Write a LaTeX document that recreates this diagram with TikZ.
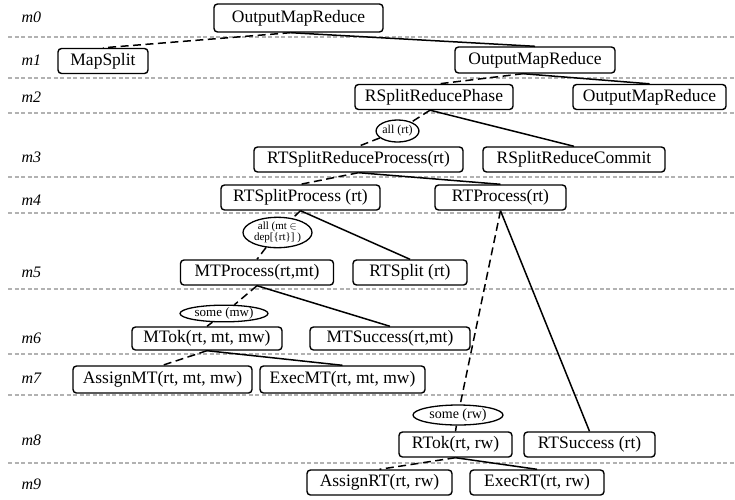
\documentclass[tikz,border=0pt]{standalone}
\usepackage{fontspec}
\setmainfont{Liberation Serif}
\usetikzlibrary{shapes.geometric}
\begin{document}
\begin{tikzpicture}[x=1pt,y=-1pt,
 box/.style={draw, rounded corners=3.5pt, line width=1.4pt, minimum height=25pt, inner sep=0pt, font=\fontsize{17.5}{20}\selectfont},
 oval/.style={draw, ellipse, line width=1.3pt, inner sep=0pt},
 lvl/.style={anchor=west, font=\fontsize{16}{18}\selectfont\itshape},
 sep/.style={draw=black!30, line width=1.1pt, dash pattern=on 4pt off 2.5pt},
 sol/.style={line width=1.5pt},
 dsh/.style={line width=1.5pt, dash pattern=on 8pt off 4.5pt}]
\useasboundingbox (0,0) rectangle (735,499);
% separators
\foreach \yy in {37,78,113,177,213,289,354,395,463}
  \draw[sep] (8,\yy) -- (735,\yy);
% level labels
\node[lvl] (m0) at (18,17) {m0};
\node[lvl] (m1) at (18,60) {m1};
\node[lvl] (m2) at (18,97) {m2};
\node[lvl] (m3) at (18,157) {m3};
\node[lvl] (m4) at (18,200) {m4};
\node[lvl] (m5) at (18,272) {m5};
\node[lvl] (m6) at (18,338) {m6};
\node[lvl] (m7) at (18,378) {m7};
\node[lvl] (m8) at (18,440) {m8};
\node[lvl] (m9) at (18,484) {m9};
% nodes
\node[box, minimum width=169pt, minimum height=28pt] (omr0) at (298.5,18) {OutputMapReduce};
\node[box, minimum width=90pt] (mapsplit) at (103,61) {MapSplit};
\node[box, minimum width=160pt, minimum height=26pt] (omr1) at (535,60) {OutputMapReduce};
\node[box, minimum width=158pt] (rsrp) at (434,97) {RSplitReducePhase};
\node[box, minimum width=153pt] (omr2) at (649.5,97) {OutputMapReduce};
\node[oval, minimum width=41pt, minimum height=22pt, font=\fontsize{12}{12}\selectfont] (allrt) at (397.5,131) {all (rt)};
\node[box, minimum width=209pt] (rtsrp) at (358.5,159.5) {RTSplitReduceProcess(rt)};
\node[box, minimum width=182pt] (rsrc) at (574,159.5) {RSplitReduceCommit};
\node[box, minimum width=159pt] (rtsp) at (300.5,197.5) {RTSplitProcess (rt)};
\node[box, minimum width=131pt] (rtp) at (500.5,197.5) {RTProcess(rt)};
\node[oval, minimum width=69pt, minimum height=29pt, align=center, font=\fontsize{11}{11.5}\selectfont] (allmt) at (277.5,232.5) {all (mt $\in$\\dep[\{rt\}] )};
\node[box, minimum width=153pt] (mtp) at (257,272.5) {MTProcess(rt,mt)};
\node[box, minimum width=114pt] (rtsplit) at (410,272.5) {RTSplit (rt)};
\node[oval, minimum width=88pt, minimum height=16pt, font=\fontsize{13}{13}\selectfont] (somemw) at (224,313.5) {some (mw)};
\node[box, minimum width=150pt, minimum height=23pt] (mtok) at (207,338.5) {MTok(rt, mt, mw)};
\node[box, minimum width=160pt, minimum height=23pt] (mtsucc) at (390,338.5) {MTSuccess(rt,mt)};
\node[box, minimum width=179pt, minimum height=27pt] (assignmt) at (162.5,379.5) {AssignMT(rt, mt, mw)};
\node[box, minimum width=165pt, minimum height=27pt] (execmt) at (342.5,379.5) {ExecMT(rt, mt, mw)};
\node[oval, minimum width=90pt, minimum height=20pt, font=\fontsize{14}{14}\selectfont] (somerw) at (458,415) {some (rw)};
\node[box, minimum width=113pt] (rtok) at (455.5,444.5) {RTok(rt, rw)};
\node[box, minimum width=131pt] (rtsucc) at (589.5,444.5) {RTSuccess (rt)};
\node[box, minimum width=145pt] (assignrt) at (379.5,482.5) {AssignRT(rt, rw)};
\node[box, minimum width=134pt] (execrt) at (537,482.5) {ExecRT(rt, rw)};
% branching points
\coordinate (b0) at ([xshift=-8pt]omr0.south);
\coordinate (b1) at ([xshift=-12pt]omr1.south);
\coordinate (b2) at ([xshift=-4pt]rsrp.south);
% connectors
\draw[dsh] (b0) -- (mapsplit.north);
\draw[sol] (b0) -- (omr1.north);
\draw[dsh] (b1) -- ([xshift=5pt]rsrp.north);
\draw[sol] (b1) -- (omr2.north);
\draw[dsh] (b2) -- (allrt);
\draw[dsh] (allrt) -- (rtsrp.north);
\draw[sol] (b2) -- (rsrc.north);
\draw[dsh] (rtsrp.south) -- (rtsp.north);
\draw[sol] (rtsrp.south) -- (rtp.north);
\draw[dsh] (rtsp.south) -- (allmt);
\draw[dsh] (allmt) -- (mtp.north);
\draw[sol] (rtsp.south) -- (rtsplit.north);
\draw[dsh] (rtp.south) -- (somerw);
\draw[sol] (somerw) -- (rtok.north);
\draw[sol] (rtp.south) -- (rtsucc.north);
\draw[dsh] (mtp.south) -- (somemw);
\draw[sol] (somemw) -- (mtok.north);
\draw[sol] (mtp.south) -- (mtsucc.north);
\draw[dsh] (mtok.south) -- (assignmt.north);
\draw[sol] (mtok.south) -- (execmt.north);
\draw[dsh] (rtok.south) -- (assignrt.north);
\draw[sol] (rtok.south) -- (execrt.north);
\end{tikzpicture}
\end{document}
